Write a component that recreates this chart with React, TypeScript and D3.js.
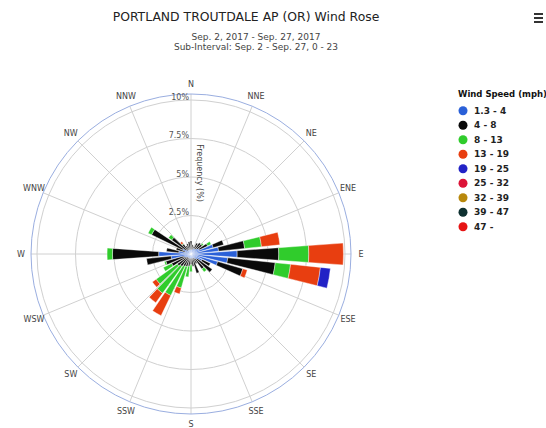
import React from "react";
import * as d3 from "d3";

const directionAngles = [0,10,20,30,40,50,60,70,80,90,100,110,120,130,140,150,160,170,180,190,200,210,220,230,240,250,260,270,280,290,300,310,320,330,340,350];

// frequency (%) per speed class, per 10° direction bin
const s1 = [0.3,0.3,0.3,0.4,0.4,0.5,0.6,1.5,1.8,3.0,2.4,1.8,0.8,0.5,0.4,0.3,0.3,0.3,0.3,0.3,0.3,0.3,0.3,0.3,0.4,0.5,1.3,2.1,0.8,0.4,0.6,0.4,0.3,0.3,0.3,0.3];
const s2 = [0.55,0.3,0.2,0.4,0.5,0.4,0.6,0.7,1.7,2.7,3.1,1.7,0.6,1.2,0.8,0.4,1.0,0.5,0.4,0.5,0.55,0.6,0.7,0.8,1.0,1.2,1.6,3.0,0.8,0.6,2.25,1.15,0.5,0.3,0.4,0.5];
const s3 = [0,0,0,0,0,0.1,0.25,0,1.1,1.95,1.0,0,0,0,0.25,0,0,0,0.45,0.7,1.45,2.1,2.15,1.7,0.6,0.1,0,0.35,0,0,0.25,0.25,0.05,0,0,0];
const s4 = [0,0,0,0,0,0,0,0,1.2,2.25,1.95,0.3,0,0,0,0,0,0,0,0,0.4,1.45,0.75,0.3,0,0,0,0,0,0,0,0,0.15,0,0,0];
const s5 = [0,0,0,0,0,0,0,0,0,0,0.65,0,0,0,0,0,0,0,0,0,0,0,0,0,0,0,0,0,0,0,0,0,0,0,0,0];
const s6 = new Array(36).fill(0);
const s7 = new Array(36).fill(0);
const s8 = new Array(36).fill(0);
const s9 = new Array(36).fill(0);

const speedLabels = ["1.3 - 4","4 - 8","8 - 13","13 - 19","19 - 25","25 - 32","32 - 39","39 - 47","47 -"];
const speedColors = ["#2a60d8","#0a0a0a","#30cc2c","#e83e10","#2222c6","#dc1438","#b8880c","#0e3030","#e61414"];
const compassLabels = ["N","NNE","NE","ENE","E","ESE","SE","SSE","S","SSW","SW","WSW","W","WNW","NW","NNW"];
const radialTicks = [0,2.5,5,7.5,10];

const W = 546, H = 428;
const cx = 191, cy = 254;
const font = "'DejaVu Sans', Verdana, sans-serif";

export default function App() {
  const series = [s1,s2,s3,s4,s5,s6,s7,s8,s9];
  const r = d3.scaleLinear().domain([0, 10]).range([0, 154]);
  const outerR = 160;
  const labelR = 170;
  const halfW = (4.1 * Math.PI) / 180;
  const arc = d3.arc<any>();

  const segs: any[] = [];
  directionAngles.forEach((deg, i) => {
    let acc = 0;
    series.forEach((s, k) => {
      const v = s[i];
      if (v > 0) {
        const a = (deg * Math.PI) / 180;
        segs.push({
          key: `${i}-${k}`,
          d: arc({ innerRadius: r(acc), outerRadius: r(acc + v), startAngle: a - halfW, endAngle: a + halfW }),
          fill: speedColors[k],
        });
        acc += v;
      }
    });
  });

  return (
    <svg width={W} height={H} style={{ position: "absolute", left: 0, top: 0, background: "#fff" }} fontFamily={font}>
      <rect width={W} height={H} fill="#fff" />
      <text x={246} y={21} textAnchor="middle" fontSize={12.4} fill="#222">PORTLAND TROUTDALE AP (OR) Wind Rose</text>
      <text x={256} y={40} textAnchor="middle" fontSize={9} fill="#444">Sep. 2, 2017 - Sep. 27, 2017</text>
      <text x={256} y={50} textAnchor="middle" fontSize={9} fill="#444">Sub-Interval: Sep. 2 - Sep. 27, 0 - 23</text>
      {/* hamburger */}
      {[0, 1, 2].map((j) => (
        <rect key={j} x={534} y={13 + j * 4} width={9} height={2} fill="#333" />
      ))}
      <g transform={`translate(${cx},${cy})`}>
        {radialTicks.slice(1).map((t) => (
          <circle key={t} r={r(t)} fill="none" stroke="#d0d0d0" strokeWidth={1} />
        ))}
        {compassLabels.map((_, j) => {
          const a = (j * 22.5 * Math.PI) / 180;
          return (
            <line key={j} x1={0} y1={0} x2={outerR * Math.sin(a)} y2={-outerR * Math.cos(a)} stroke="#d0d0d0" strokeWidth={1} />
          );
        })}
        <circle r={outerR} fill="none" stroke="#9aaee0" strokeWidth={1} />
        {radialTicks.map((t) => (
          <text key={t} x={-2} y={-r(t) - 0.5} textAnchor="end" fontSize={8} fill="#555">{`${t}%`}</text>
        ))}
        <text transform={`translate(6,-81) rotate(90)`} textAnchor="middle" fontSize={8} fill="#444">Frequency (%)</text>
        {segs.map((s) => (
          <path key={s.key} d={s.d} fill={s.fill} stroke="#fff" strokeWidth={0.4} />
        ))}
        {compassLabels.map((lab, j) => {
          const a = (j * 22.5 * Math.PI) / 180;
          return (
            <text key={lab} x={labelR * Math.sin(a)} y={-labelR * Math.cos(a)} textAnchor="middle" dominantBaseline="middle" fontSize={8} fill="#444">{lab}</text>
          );
        })}
      </g>
      <text x={458} y={96.5} fontSize={8.5} fontWeight="bold" fill="#111">Wind Speed (mph)</text>
      {speedLabels.map((lab, k) => {
        const yc = 110.7 + k * 14.5;
        return (
          <g key={lab}>
            <circle cx={463} cy={yc} r={4.5} fill={speedColors[k]} />
            <text x={474} y={yc + 3.2} fontSize={9} fontWeight="bold" fill="#222">{lab}</text>
          </g>
        );
      })}
    </svg>
  );
}
